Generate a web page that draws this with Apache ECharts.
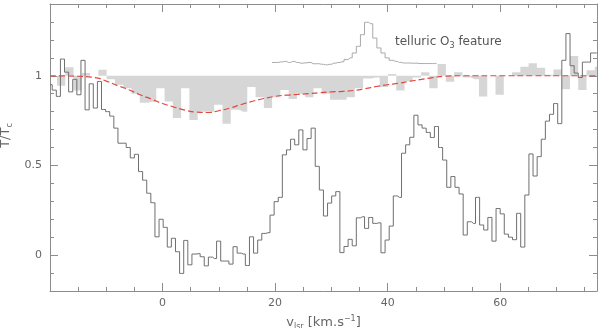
<!DOCTYPE html>
<html><head><meta charset="utf-8">
<script src="https://cdn.jsdelivr.net/npm/echarts@6/dist/echarts.min.js"></script>
<style>html,body{margin:0;padding:0;background:#fff}#c{width:600px;height:328px}</style>
</head><body><div id="c"></div>
<script>
// ---- data ----
// main spectrum: channel centres start at darkFirstV, spacing darkStepV (km/s)
const darkFirstV = -19.975, darkStepV = 0.7303;
const darkT = [
0.95,0.92,0.885,1.093,1.02,0.91,0.98,0.894,1.086,0.81,
0.955,0.82,0.968,0.812,0.80,0.775,0.708,0.624,0.624,0.60,
0.542,0.562,0.466,0.418,0.345,0.292,0.102,0.20,0.155,0.045,
0.094,0.019,-0.102,0.082,-0.054,0.006,0.008,-0.009,-0.06,-0.011,
-0.019,0.078,-0.033,-0.033,-0.05,0.047,0.011,0.006,-0.058,0.102,
0.011,0.084,0.121,0.125,0.223,0.298,0.322,0.559,0.587,0.646,
0.615,0.698,0.587,0.65,0.708,0.495,0.363,0.218,0.29,0.33,
0.354,0.014,0.048,0.088,0.052,0.208,0.214,0.149,0.21,0.177,
0.18,0.013,0.084,0.162,0.33,0.322,0.568,0.615,0.657,0.78,
0.726,0.708,0.684,0.656,0.717,0.60,0.53,0.378,0.438,0.378,
0.341,0.112,0.186,0.177,0.322,0.168,0.14,0.21,0.078,0.26,
0.23,0.117,0.1,0.086,0.233,0.045,0.335,0.564,0.441,0.549,
0.646,0.747,0.785,0.845,0.733,1.086,1.235,1.056,1.015,0.99,
1.076,1.076,1.127,1.127
];
// grey filled (model-divided) spectrum, coarser channels
const grayFirstV = -19.49, grayStepV = 1.4702;
const grayT = [
1.0,0.944,1.048,0.918,1.015,1.0,1.034,0.98,0.95,0.93,
0.90,0.85,0.855,0.93,0.857,0.764,0.93,0.754,0.80,0.80,
0.838,0.732,0.81,0.80,0.937,0.88,0.82,0.88,0.92,0.87,
0.90,0.88,0.93,0.90,0.866,0.866,0.88,0.93,0.985,0.99,
0.937,1.01,0.918,0.97,0.99,1.02,0.93,1.065,0.966,1.02,
0.99,0.98,0.885,1.0,0.894,1.0,1.02,1.05,1.07,1.045,
1.005,1.035,0.925,1.11,0.92,1.03,1.05
];
// telluric O3 feature (same channel spacing as main spectrum)
const telluricFirstV = 19.461;
const telluricT = [
1.074,1.074,1.077,1.08,1.074,1.08,1.074,1.07,1.072,1.074,
1.067,1.067,1.064,1.061,1.064,1.07,1.074,1.078,1.09,1.10,
1.127,1.164,1.229,1.298,1.29,1.21,1.155,1.127,1.10,1.086,
1.08,1.074,1.071,1.071,1.07,1.07,1.068,1.068,1.068,1.068,1.068
];
// red dashed model curve
const redV = [-20,-16,-12,-10,-8,-6,-4,-2,0,2,4,6,8,10,12,14,16,18,20,22,24,26,28,30,32,34,36,38,40,42,44,46,48,50,54,60,66,72,77.2];
const redT = [1.0,0.998,0.99,0.97,0.945,0.922,0.894,0.87,0.845,0.826,0.808,0.797,0.795,0.805,0.82,0.84,0.858,0.873,0.885,0.892,0.896,0.9,0.906,0.91,0.913,0.918,0.928,0.94,0.95,0.958,0.97,0.98,0.99,0.997,1.0,1.0,1.0,1.0,1.0];
// axes
const xMin = -20, xMax = 77.2, xMinorStep = 5;
const xMajorTicks = [-20, 0, 20, 40, 60];
const xLabels = [0, 20, 40, 60];
const yMin = -0.2, yMax = 1.4, yMinorStep = 0.1;
const yMajorTicks = [0, 0.5, 1];
const yLabels = [0, 0.5, 1];

// ---- build ----
const chan = (first, step, vals) => vals.map((t, j) => [first + step * j, t]);
const darkData = chan(darkFirstV, darkStepV, darkT);
const grayData = chan(grayFirstV, grayStepV, grayT);
const telluricData = chan(telluricFirstV, darkStepV, telluricT);
const redData = redV.map((v, j) => [v, redT[j]]);

const axisColor = '#8c8c8c', textColor = '#666';
const font = 'DejaVu Sans';
function xAx(pos, major, withLabels) {
  const a = {
    type: 'value', position: pos, min: xMin, max: xMax,
    splitLine: {show: false},
    axisLine: {show: !major, onZero: false, lineStyle: {color: axisColor, width: 1}},
    axisTick: {show: true, inside: true, length: major ? 8 : 4, lineStyle: {color: axisColor}},
    axisLabel: {show: false}
  };
  if (major) { a.axisTick.customValues = xMajorTicks; a.interval = 20; }
  else a.interval = xMinorStep;
  if (withLabels) {
    a.axisLabel = {show: true, customValues: xLabels, color: textColor, fontFamily: font, fontSize: 11, margin: 7};
    a.name = '{t|v}{s|lsr}{t| [km.s}{p|−1}{t|]}';
    a.nameLocation = 'middle';
    a.nameGap = 24;
    a.nameTextStyle = {rich: {
      t: {fontSize: 13, fontFamily: font, color: textColor, lineHeight: 16},
      s: {fontSize: 8, fontFamily: font, color: textColor, verticalAlign: 'bottom', lineHeight: 8},
      p: {fontSize: 8, fontFamily: font, color: textColor, verticalAlign: 'top', lineHeight: 8}
    }};
  }
  return a;
}
function yAx(pos, major, withLabels) {
  const a = {
    type: 'value', position: pos, min: yMin, max: yMax,
    splitLine: {show: false},
    axisLine: {show: !major, onZero: false, lineStyle: {color: axisColor, width: 1}},
    axisTick: {show: true, inside: true, length: major ? 8 : 4, lineStyle: {color: axisColor}},
    axisLabel: {show: false}
  };
  if (major) a.axisTick.customValues = yMajorTicks;
  a.interval = yMinorStep;
  if (withLabels) {
    a.axisLabel = {show: true, customValues: yLabels, color: textColor, fontFamily: font, fontSize: 11, margin: 8,
      formatter: v => String(v)};
    a.name = '{t|T/T}{s|c}';
    a.nameLocation = 'middle';
    a.nameRotate = 90;
    a.nameGap = 26;
    a.nameTextStyle = {padding: [0, 0, 0, 24], rich: {
      t: {fontSize: 13, fontFamily: font, color: textColor, lineHeight: 16},
      s: {fontSize: 8, fontFamily: font, color: textColor, verticalAlign: 'bottom', lineHeight: 8}
    }};
  }
  return a;
}

const chart = echarts.init(document.getElementById('c'), null, {renderer: 'canvas'});
chart.setOption({
  animation: false,
  backgroundColor: '#fff',
  grid: {left: 50, right: 3, top: 4, bottom: 37, containLabel: false, outerBoundsMode: 'none'},
  xAxis: [xAx('bottom', false, false), xAx('bottom', true, true), xAx('top', false, false), xAx('top', true, false)],
  yAxis: [yAx('left', false, false), yAx('left', true, true), yAx('right', false, false), yAx('right', true, false)],
  series: [
    {type: 'line', data: grayData, step: 'middle', symbol: 'none', silent: true, z: 1,
     lineStyle: {width: 0}, areaStyle: {color: '#d6d6d6', opacity: 1, origin: 1}},
    {type: 'line', data: telluricData, step: 'middle', symbol: 'none', silent: true, z: 2,
     lineStyle: {color: '#a9a9a9', width: 1}},
    {type: 'line', data: darkData, step: 'middle', symbol: 'none', silent: true, z: 3,
     lineStyle: {color: '#6f6f6f', width: 1}},
    {type: 'line', data: redData, smooth: true, symbol: 'none', silent: true, z: 4,
     lineStyle: {color: '#e2463f', width: 1.2, type: [6, 3]}}
  ],
  graphic: [{
    type: 'text', left: 395, top: 36, silent: true,
    style: {
      text: '{t|telluric O}{s|3}{t| feature}',
      rich: {
        t: {fontSize: 12, fontFamily: font, fill: '#555', lineHeight: 15},
        s: {fontSize: 8, fontFamily: font, fill: '#555', verticalAlign: 'bottom', lineHeight: 8}
      }
    }
  }]
});
</script></body></html>
